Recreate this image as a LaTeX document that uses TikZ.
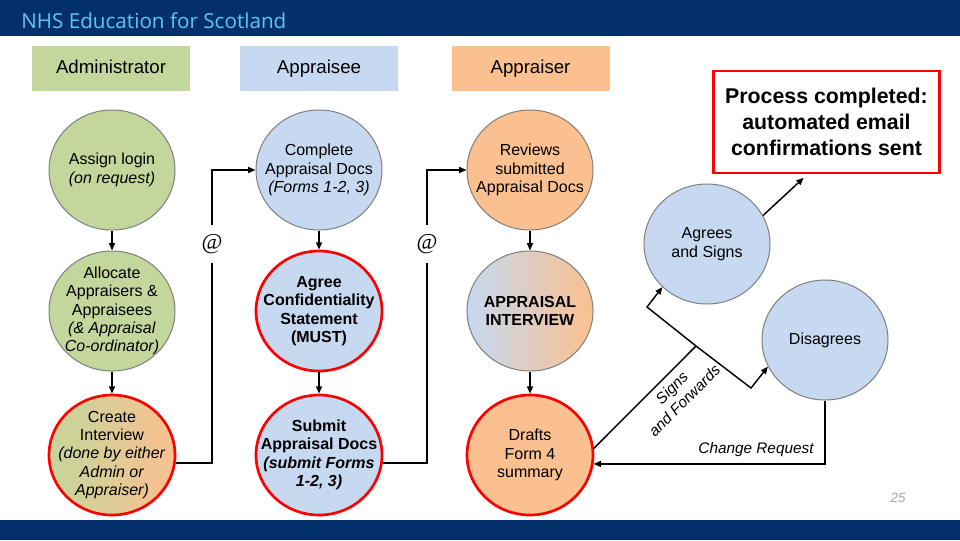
\documentclass[tikz,border=0pt]{standalone}
\usepackage{fontspec}
\setmainfont{Liberation Sans}
\newfontfamily\titlefont{Open Sans}
\newfontfamily\atfont{Liberation Serif}
\usetikzlibrary{shapes.geometric,arrows.meta,calc}
\definecolor{navy}{HTML}{03306A}
\definecolor{titleblue}{HTML}{5CC6F2}
\definecolor{admgreen}{HTML}{C3D69B}
\definecolor{eeblue}{HTML}{C6D9F1}
\definecolor{erorange}{HTML}{FAC090}
\definecolor{bordergray}{HTML}{7F7F7F}
\definecolor{redline}{HTML}{FF0000}
\definecolor{pagegray}{HTML}{A6A6A6}
\begin{document}
\begin{tikzpicture}[x=0.75pt,y=-0.75pt,
 bubble/.style={ellipse, draw=bordergray, line width=0.75pt, minimum width=94.5pt, minimum height=90pt, inner sep=-12pt, align=center, font=\fontsize{12}{13.8}\selectfont},
 redbubble/.style={bubble, draw=redline, line width=2pt},
 boldtext/.style={font=\bfseries\fontsize{12}{13.8}\selectfont},
 header/.style={minimum width=118.5pt, minimum height=33.75pt, inner sep=0pt, text height=10pt, text depth=3pt, font=\fontsize{14}{16}\selectfont},
 conn/.style={line width=1.1pt, draw=black},
 arr/.style={conn, -{Triangle[length=5.5pt,width=4.5pt]}},
 atsign/.style={font=\atfont\fontsize{17}{17}\selectfont, inner xsep=2pt, inner ysep=7pt, text height=11pt, text depth=3pt},
 lbl/.style={font=\itshape\fontsize{11.5}{13.5}\selectfont, align=center, inner sep=0pt}
]
\useasboundingbox (0,0) rectangle (960,540);
\fill[white] (0,0) rectangle (960,540);
% banners
\fill[navy] (0,0) rectangle (960,36);
\fill[navy] (0,520) rectangle (960,540);
\node[anchor=base west, text=titleblue, font=\titlefont\fontsize{15.5}{18}\selectfont, inner sep=0pt] (title) at (21,28) {NHS Education for Scotland};
% headers
\node[header, fill=admgreen] (hadm) at (111,68.5) {Administrator};
\node[header, fill=eeblue] (hee) at (319,68.5) {Appraisee};
\node[header, fill=erorange] (her) at (530.5,68.5) {Appraiser};
% administrator column
\node[bubble, fill=admgreen] (assign) at (112,170) {Assign login\\\textit{(on request)}};
\node[bubble, fill=admgreen] (allocate) at (112,311) {Allocate\\Appraisers \&\\Appraisees\\\textit{(\& Appraisal}\\\textit{Co-ordinator)}};
\node[redbubble, left color=admgreen, right color=erorange] (create) at (112,455) {Create\\Interview\\\textit{(done by either}\\\textit{Admin or}\\\textit{Appraiser)}};
% appraisee column
\node[bubble, fill=eeblue] (complete) at (319,170) {Complete\\Appraisal Docs\\\textit{(Forms 1-2, 3)}};
\node[redbubble, boldtext, fill=eeblue] (agree) at (319,311) {Agree\\Confidentiality\\Statement\\(MUST)};
\node[redbubble, boldtext, fill=eeblue] (submit) at (319,455) {Submit\\Appraisal Docs\\\textit{(submit Forms}\\\textit{1-2, 3)}};
% appraiser column
\node[bubble, fill=erorange] (reviews) at (530,170) {Reviews\\submitted\\Appraisal Docs};
\node[bubble, boldtext, left color=eeblue, right color=erorange] (interview) at (530,311) {APPRAISAL\\INTERVIEW};
\node[redbubble, fill=erorange] (drafts) at (530,455) {Drafts\\Form 4\\summary};
% outcomes
\node[bubble, fill=eeblue] (agrees) at (707,244) {Agrees\\and Signs};
\node[bubble, fill=eeblue] (disagrees) at (825,340) {Disagrees};
\node[draw=redline, line width=2.2pt, minimum width=170pt, minimum height=76.5pt, align=center, font=\bfseries\fontsize{16}{19.5}\selectfont] (done) at (826.5,122) {Process completed:\\automated email\\confirmations sent};
% @ nodes
\node[atsign] (at1) at (212,244) {@};
\node[atsign] (at2) at (427,244) {@};
% connectors
\draw[arr] (assign) -- (allocate);
\draw[arr] (allocate) -- (create);
\draw[arr] (complete) -- (agree);
\draw[arr] (agree) -- (submit);
\draw[arr] (reviews) -- (interview);
\draw[arr] (interview) -- (drafts);
\draw[conn] (create.-7) -| (at1.south);
\draw[arr] (at1.north) |- (complete.west);
\draw[conn] (submit.-7) -| (at2.south);
\draw[arr] (at2.north) |- (reviews.west);
\coordinate (jn) at (696,346);
\coordinate (ja) at (647,307);
\coordinate (jd) at (751,388);
\draw[conn] (drafts.6) -- (jn);
\draw[arr] (jn) -- (ja) -- (agrees.224);
\draw[arr] (jn) -- (jd) -- (disagrees.205);
\draw[arr] (disagrees.south) |- (drafts.-8);
\draw[arr] (agrees.27) -- ([xshift=69pt,yshift=-2.5pt]done.south west);
% labels
\node[lbl, rotate=45] (sf) at (678,394) {Signs\\and Forwards};
\node[lbl] (cr) at (756,450) {Change Request};
\node[text=pagegray, font=\itshape\fontsize{10}{12}\selectfont] (pg) at (898,498) {25};
\end{tikzpicture}
\end{document}
